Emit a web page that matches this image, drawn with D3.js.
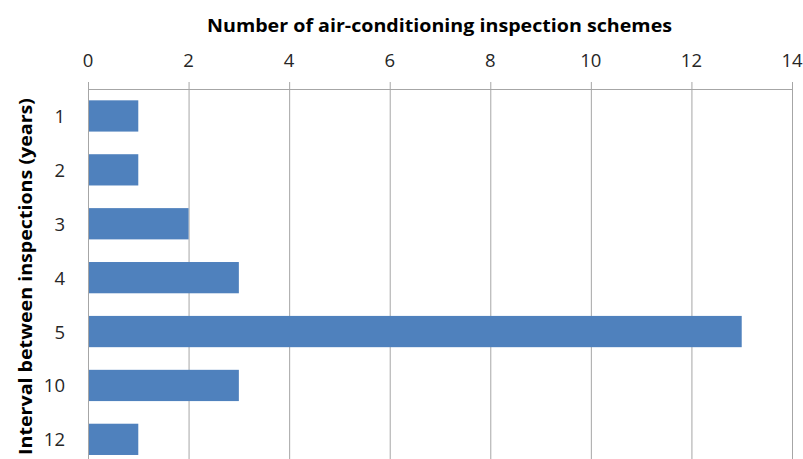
<!DOCTYPE html>
<html><head><meta charset="utf-8">
<script src="https://cdn.jsdelivr.net/npm/d3@7"></script>
<style>body{margin:0;background:#fff}svg{display:block}</style>
</head><body>
<svg id="c" width="803" height="459"></svg>
<script>
const categories = ["1","2","3","4","5","10","12"];
const values = [1,1,2,3,13,3,1];
const xTicks = [0,2,4,6,8,10,12,14];
const xTitle = "Number of air-conditioning inspection schemes";
const yTitle = "Interval between inspections (years)";

const svg = d3.select("#c");
const font = "'Open Sans', sans-serif";
const x = d3.scaleLinear().domain([0,14]).range([88,792]);
const y = d3.scaleBand().domain(categories).range([89, 89+7*53.9]).paddingInner(0.42).paddingOuter(0.21);

// gridlines
svg.append("g").selectAll("line").data(xTicks).join("line")
  .attr("x1",d=>x(d)+0.5).attr("x2",d=>x(d)+0.5).attr("y1",82).attr("y2",459)
  .attr("stroke","#a6a6a6").attr("stroke-width",1);
// axis line
svg.append("line").attr("x1",x(0)).attr("x2",x(14)+1).attr("y1",89.5).attr("y2",89.5)
  .attr("stroke","#a6a6a6");

// bars
svg.append("g").selectAll("rect").data(values).join("rect")
  .attr("x",x(0)+1).attr("y",(d,i)=>y(categories[i]))
  .attr("width",d=>x(d)-x(0)-1).attr("height",y.bandwidth())
  .attr("fill","#4f81bd");

// tick labels
svg.append("g").selectAll("text").data(xTicks).join("text")
  .attr("x",d=>x(d)).attr("y",67).attr("text-anchor","middle")
  .attr("font-family",font).attr("font-size",18.5).attr("fill","#262626").text(d=>d);

// category labels
svg.append("g").selectAll("text").data(categories).join("text")
  .attr("x",65).attr("y",d=>y(d)+y.bandwidth()/2+7).attr("text-anchor","end")
  .attr("font-family",font).attr("font-size",18.5).attr("fill","#262626").text(d=>d);

// titles
svg.append("text").attr("x",439.5).attr("y",32).attr("text-anchor","middle")
  .attr("font-family",font).attr("font-weight","bold").attr("font-size",18.5).attr("fill","#000")
  .attr("textLength",465).attr("lengthAdjust","spacingAndGlyphs").text(xTitle);
svg.append("text").attr("transform","translate(32,276.5) rotate(-90)").attr("text-anchor","middle")
  .attr("font-family",font).attr("font-weight","bold").attr("font-size",18.5).attr("fill","#000")
  .attr("textLength",357).attr("lengthAdjust","spacingAndGlyphs").text(yTitle);
</script>
</body></html>
